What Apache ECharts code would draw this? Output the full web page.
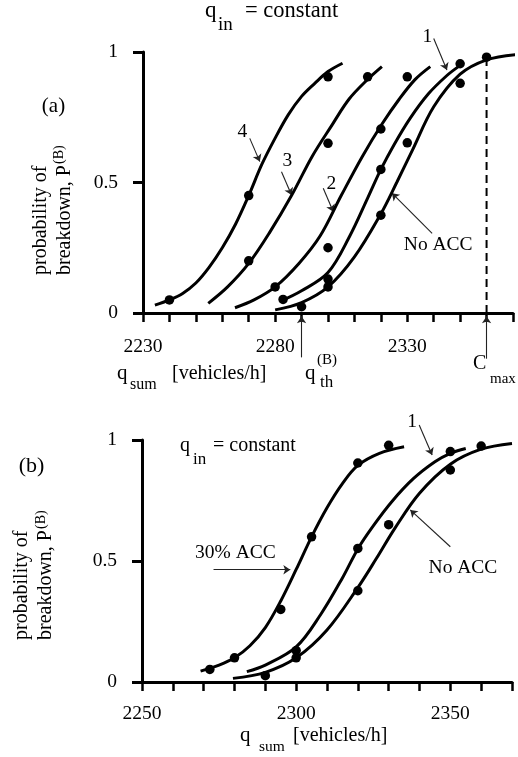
<!DOCTYPE html>
<html>
<head>
<meta charset="utf-8">
<script src="https://cdn.jsdelivr.net/npm/echarts@6/dist/echarts.min.js"></script>
<style>
  html, body { margin: 0; padding: 0; background: #fff; }
  #c { width: 518px; height: 757px; }
</style>
</head>
<body>
<div id="c"></div>
<script>
// ---- tick labels ----
const xTicksA = [2230, 2280, 2330];
const xTicksB = [2250, 2300, 2350];
const yTicks = [0, 0.5, 1];

// ---- panel (a): fitted breakdown-probability curves, q_sum vs P(B) ----
const curve4 = [[2234.5, 0.03], [2240, 0.05], [2245, 0.075], [2250, 0.115], [2255, 0.175], [2260, 0.25],
  [2265, 0.34], [2270, 0.45], [2275, 0.57], [2280, 0.67], [2285, 0.76], [2290, 0.83], [2295, 0.88],
  [2300, 0.925], [2305.5, 0.957]];
const curve3 = [[2254.7, 0.037], [2262, 0.10], [2270, 0.19], [2278, 0.31], [2286.3, 0.452], [2294, 0.60],
  [2301.5, 0.72], [2308, 0.82], [2315, 0.895], [2320.4, 0.944]];
const curve2 = [[2264.8, 0.02], [2272, 0.05], [2280, 0.10], [2289, 0.19], [2297, 0.295], [2305, 0.45],
  [2313, 0.60], [2320.5, 0.725], [2327, 0.82], [2333, 0.895], [2338.7, 0.944]];
const curve1A = [[2282, 0.045], [2290, 0.085], [2300, 0.155], [2308, 0.29], [2315, 0.44], [2320, 0.55],
  [2325, 0.645], [2331, 0.745], [2338, 0.84], [2345, 0.91], [2349.5, 0.945]];
const noAccA = [[2280, 0.012], [2290, 0.04], [2300, 0.10], [2310, 0.215], [2320, 0.38], [2326, 0.50],
  [2332, 0.625], [2340, 0.79], [2350, 0.915], [2360, 0.97], [2371, 0.99]];

// ---- panel (a): measured points ----
const dots4 = [[2240, 0.05], [2270, 0.45], [2300, 0.905]];
const dots3 = [[2270, 0.20], [2300, 0.65], [2315, 0.905]];
const dots2 = [[2280, 0.10], [2300, 0.25], [2320, 0.705], [2330, 0.905]];
const dots1A = [[2283, 0.052], [2300, 0.13], [2320, 0.55], [2350, 0.955]];
const dotsNoAccA = [[2290, 0.024], [2300, 0.10], [2320, 0.375], [2330, 0.652], [2350, 0.88], [2360, 0.98]];

// capacity and threshold flow rates marked on the q_sum axis
const cMax = 2360;
const cMaxTop = 0.98;
const qTh = 2290;

// ---- panel (b) ----
const acc30 = [[2269, 0.045], [2275, 0.07], [2280, 0.10], [2285, 0.15], [2290, 0.225], [2295, 0.335],
  [2300, 0.465], [2305, 0.60], [2310, 0.72], [2315, 0.82], [2320, 0.895], [2327, 0.945], [2335, 0.972]];
const curve1B = [[2284, 0.043], [2290, 0.07], [2300, 0.145], [2308, 0.28], [2315, 0.43], [2320, 0.55],
  [2325, 0.645], [2331, 0.745], [2338, 0.84], [2345, 0.91], [2350, 0.945], [2355, 0.965]];
const noAccB = [[2279.5, 0.015], [2290, 0.04], [2300, 0.10], [2310, 0.215], [2320, 0.39], [2326, 0.51],
  [2332, 0.635], [2340, 0.78], [2350, 0.90], [2360, 0.962], [2370, 0.986]];

const dotsAcc30 = [[2272, 0.052], [2280, 0.10], [2295, 0.30], [2305, 0.60], [2320, 0.905], [2330, 0.978]];
const dots1B = [[2300, 0.13], [2320, 0.552], [2350, 0.952]];
const dotsNoAccB = [[2290, 0.026], [2300, 0.10], [2320, 0.377], [2330, 0.65], [2350, 0.876], [2360, 0.975]];

// ---- annotations (data coordinates of each panel) ----
const labelsA = [
  { text: '4', at: [2267.6, 0.695] },
  { text: '3', at: [2284.6, 0.583] },
  { text: '2', at: [2301.3, 0.493] },
  { text: '1', at: [2337.6, 1.059] },
  { text: 'No ACC', at: [2341.7, 0.26] }
];
const arrowsA = [
  [[2270.4, 0.669], [2274.2, 0.58]],
  [[2282.4, 0.541], [2286.2, 0.452]],
  [[2298.2, 0.478], [2302.0, 0.388]],
  [[2340.0, 1.052], [2345.0, 0.931]],
  [[2339.4, 0.305], [2324.2, 0.459]],
  [[qTh, -0.17], [qTh, -0.012]],
  [[cMax, -0.175], [cMax, -0.012]]
];
const labelsB = [
  { text: '1', at: [2337.6, 1.076] },
  { text: 'No ACC', at: [2354.1, 0.47] },
  { text: '30% ACC', at: [2280.3, 0.532] }
];
const arrowsB = [
  [[2339.9, 1.062], [2344.1, 0.938]],
  [[2350.0, 0.559], [2337.0, 0.711]],
  [[2273.2, 0.464], [2298.1, 0.464]]
];

const SERIF = '"Liberation Serif", "Times New Roman", serif';
const chart = echarts.init(document.getElementById('c'));

function xAxisOf(grid, min, ticks, margin) {
  return {
    gridIndex: grid, type: 'value', min: min, max: 2370, interval: 10,
    axisLine: { show: true, onZero: false, lineStyle: { color: '#000', width: 3 } },
    axisTick: { show: true, length: 9, lineStyle: { color: '#000', width: 2.5 } },
    splitLine: { show: false },
    axisLabel: {
      color: '#000', fontFamily: SERIF, fontSize: 19.5, margin: margin,
      formatter: v => ticks.includes(v) ? String(v) : ''
    }
  };
}
function yAxisOf(grid) {
  return {
    gridIndex: grid, type: 'value', min: 0, max: 1, interval: 0.5,
    axisLine: { show: true, onZero: false, lineStyle: { color: '#000', width: 3 } },
    axisTick: { show: true, length: 10, lineStyle: { color: '#000', width: 3 } },
    splitLine: { show: false },
    axisLabel: {
      color: '#000', fontFamily: SERIF, fontSize: 19.5, margin: 25,
      formatter: v => yTicks.includes(v) ? String(v) : ''
    }
  };
}
function curve(grid, data) {
  return {
    type: 'line', xAxisIndex: grid, yAxisIndex: grid, data: data,
    smooth: 0.35, symbol: 'none', silent: true,
    lineStyle: { color: '#000', width: 3 }
  };
}
function dots(grid, data) {
  return {
    type: 'scatter', xAxisIndex: grid, yAxisIndex: grid, data: data,
    symbolSize: 9.5, itemStyle: { color: '#000', opacity: 1 }, silent: true
  };
}
function arrows(grid, list) {
  return {
    type: 'lines', coordinateSystem: 'cartesian2d', xAxisIndex: grid, yAxisIndex: grid,
    clip: false, symbol: ['none', 'arrow'], symbolSize: 7, silent: true,
    lineStyle: { color: '#222', width: 1.1, opacity: 1 },
    data: list.map(c => ({ coords: c }))
  };
}

chart.setOption({
  animation: false,
  backgroundColor: '#fff',
  grid: [
    { left: 143, top: 52, width: 370, height: 261 },
    { left: 142, top: 440, width: 370, height: 242 }
  ],
  xAxis: [xAxisOf(0, 2230, xTicksA, 24), xAxisOf(1, 2250, xTicksB, 22)],
  yAxis: [yAxisOf(0), yAxisOf(1)],
  series: [
    curve(0, curve4), curve(0, curve3), curve(0, curve2), curve(0, curve1A), curve(0, noAccA),
    dots(0, [].concat(dots4, dots3, dots2, dots1A, dotsNoAccA)),
    {
      type: 'line', xAxisIndex: 0, yAxisIndex: 0, symbol: 'none', silent: true,
      data: [[cMax, 0], [cMax, cMaxTop]],
      lineStyle: { color: '#000', width: 2, type: [8, 5] }
    },
    arrows(0, arrowsA),
    curve(1, acc30), curve(1, curve1B), curve(1, noAccB),
    dots(1, [].concat(dotsAcc30, dots1B, dotsNoAccB)),
    arrows(1, arrowsB)
  ]
});

// ---- text: mixed-size pieces placed by baseline ----
const mctx = document.createElement('canvas').getContext('2d');
function measure(t, size) { mctx.font = size + 'px ' + SERIF; return mctx.measureText(t).width; }
function piece(x, base, t, size, align) {
  return {
    type: 'text', x: x, y: base - 0.34 * size, silent: true,
    style: { text: t, font: size + 'px ' + SERIF, fill: '#000', align: align || 'left', verticalAlign: 'middle' }
  };
}
function centered(p, t, size) {
  return {
    type: 'text', x: p[0], y: p[1], silent: true,
    style: { text: t, font: size + 'px ' + SERIF, fill: '#000', align: 'center', verticalAlign: 'middle' }
  };
}
// rotated y-axis title: reads bottom-to-top, two lines
function yTitle(bottom, base1, base2) {
  const s = 20;
  const lead = 'breakdown, P';
  return {
    type: 'group', x: 0, y: bottom, rotation: Math.PI / 2, silent: true,
    children: [
      piece(0, base1, 'probability of', s),
      piece(0, base2, lead, s),
      piece(measure(lead, s) + 1, base2 - 7, '(B)', 14)
    ]
  };
}

const g = [];
// panel (a) heading
g.push(piece(205, 18.3, 'q', 23), piece(218, 31, 'in', 19), piece(245, 18.3, '= constant', 22.5));
g.push(centered([53.5, 106], '(a)', 21));
g.push(yTitle(275, 47.5, 71.5));
// q_sum axis title (a)
g.push(piece(117, 381, 'q', 21), piece(130, 390, 'sum', 16), piece(172, 381, '[vehicles/h]', 20));
// threshold and capacity markers
g.push(piece(305, 381, 'q', 21), piece(320, 388, 'th', 17), piece(317, 365, '(B)', 15));
g.push(piece(473, 371, 'C', 20), piece(490, 384, 'max', 15));
labelsA.forEach(l => g.push(centered(chart.convertToPixel({ gridIndex: 0 }, l.at), l.text, 19.5)));

// panel (b)
g.push(centered([31.5, 466], '(b)', 22));
g.push(yTitle(640, 28.5, 53));
g.push(piece(180, 453, 'q', 20), piece(193, 465, 'in', 17), piece(213, 453, '= constant', 20));
g.push(piece(240, 743, 'q', 21), piece(259, 752, 'sum', 15.5), piece(293, 743, '[vehicles/h]', 20));
labelsB.forEach(l => g.push(centered(chart.convertToPixel({ gridIndex: 1 }, l.at), l.text, 19.5)));

chart.setOption({ graphic: g });
</script>
</body>
</html>
